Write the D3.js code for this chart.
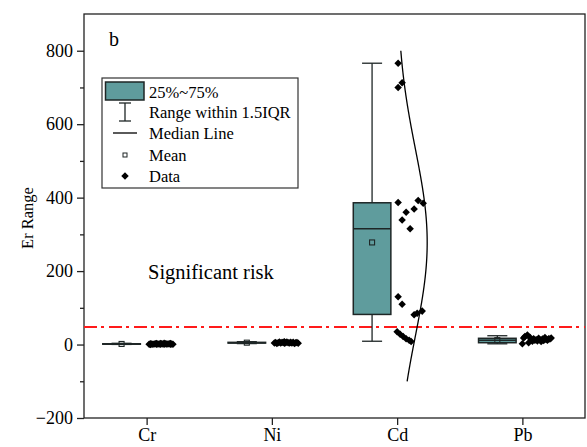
<!DOCTYPE html>
<html>
<head>
<meta charset="utf-8">
<script src="https://cdn.jsdelivr.net/npm/d3@7"></script>
<style>
  html, body { margin: 0; padding: 0; background: #fff; }
  svg { display: block; }
</style>
</head>
<body>
<svg id="chart" width="587" height="447"></svg>
<script>
// Metals on the category axis
const categories = ["Cr", "Ni", "Cd", "Pb"];

// Box statistics per metal (same order as categories)
const q1Values      = [0.9, 4.0, 82, 5];
const medianValues  = [1.5, 5.0, 315, 12];
const q3Values      = [2.1, 6.0, 386, 17];
const whiskerLow    = [0.3, 2.6, 9, 2];
const whiskerHigh   = [3.4, 7.8, 766, 24];
const meanValues    = [1.6, 5.1, 278, 12];

// Individual Er values, with a jitter (fraction of a category step) for each
const crData   = [0.3, 0.5, 0.6, 0.7, 0.8, 0.9, 1.0, 1.1, 1.2, 1.3, 1.4, 1.5, 1.5, 1.6, 1.7, 1.8, 1.9, 2.0, 2.1, 2.2, 2.4, 2.6, 2.8, 3.1, 3.4];
const crJitter = [0.03, 0.19, 0.08, 0.14, 0.05, 0.21, 0.11, 0.02, 0.17, 0.09, 0.13, 0.06, 0.2, 0.04, 0.16, 0.1, 0.18, 0.07, 0.12, 0.15, 0.03, 0.19, 0.08, 0.11, 0.14];
const niData   = [2.6, 3.0, 3.3, 3.6, 3.9, 4.1, 4.3, 4.5, 4.7, 4.9, 5.0, 5.1, 5.3, 5.5, 5.7, 5.9, 6.1, 6.4, 6.8, 7.2, 7.8];
const niJitter = [0.04, 0.18, 0.1, 0.21, 0.07, 0.14, 0.02, 0.16, 0.11, 0.05, 0.19, 0.13, 0.08, 0.2, 0.03, 0.15, 0.09, 0.17, 0.12, 0.06, 0.1];
const cdData   = [766, 713, 700, 392, 387, 385, 369, 360, 339, 315, 130, 110, 91, 85, 81, 35, 28, 22, 16, 12, 8];
const cdJitter = [0.008, 0.04, 0.008, 0.168, 0.008, 0.208, 0.136, 0.072, 0.04, 0.104, 0.008, 0.04, 0.2, 0.16, 0.136, 0.0, 0.024, 0.048, 0.072, 0.096, 0.112];
const pbData   = [26, 22, 18, 2, 5, 9, 14, 12, 16, 20, 10, 13, 17, 8, 11, 15, 19, 12, 14, 16, 18, 13, 15];
const pbJitter = [0.04, 0.02, 0.01, 0.0, 0.05, 0.08, 0.07, 0.1, 0.09, 0.06, 0.12, 0.14, 0.13, 0.15, 0.17, 0.16, 0.18, 0.2, 0.19, 0.21, 0.23, 0.11, 0.22];

// Normal distribution fitted to the Cd values
const cdFitMean = 278;
const cdFitSD = 255;

// Threshold line and axis ticks
const thresholdValue = 48;
const yTickValues = [-200, 0, 200, 400, 600, 800];
const yMinorTicks = [-100, 100, 300, 500, 700];

const pointSets = [
  { values: crData, jitter: crJitter },
  { values: niData, jitter: niJitter },
  { values: cdData, jitter: cdJitter },
  { values: pbData, jitter: pbJitter }
];

const serif = "'Liberation Serif', 'Times New Roman', Times, serif";

const svg = d3.select("#chart").attr("font-family", serif);
const plot = { left: 84, right: 585, top: 14, bottom: 418 };

const x = d3.scaleLinear().domain([0.5, categories.length + 0.5]).range([plot.left, plot.right]);
const y = d3.scaleLinear().domain([-200, 900]).range([plot.bottom, plot.top]);

const boxFill = "#5f9c9d";
const darkStroke = "#1e2626";
const boxOffset = -0.2;   // box centre relative to category
const boxHalf = 0.15;
const capHalf = 0.08;

// Frame
svg.append("rect")
  .attr("x", plot.left).attr("y", plot.top)
  .attr("width", plot.right - plot.left).attr("height", plot.bottom - plot.top)
  .attr("fill", "none").attr("stroke", "#222").attr("stroke-width", 1.3);

// Left axis
const yAxis = svg.append("g").attr("transform", `translate(${plot.left},0)`)
  .call(d3.axisLeft(y).tickValues(yTickValues).tickSize(7).tickPadding(4)
    .tickFormat(d => d < 0 ? "\u2212" + Math.abs(d) : d));
yAxis.attr("font-family", serif).attr("font-size", 18);
yAxis.select(".domain").remove();
yAxis.selectAll("line").attr("stroke", "#222").attr("stroke-width", 1.3);
yAxis.selectAll("text").attr("fill", "#000");
svg.append("g").attr("transform", `translate(${plot.left},0)`)
  .call(d3.axisLeft(y).tickValues(yMinorTicks).tickSize(4).tickFormat(""))
  .call(g => g.select(".domain").remove())
  .selectAll("line").attr("stroke", "#222").attr("stroke-width", 1.3);

// Bottom axis
const xAxis = svg.append("g").attr("transform", `translate(0,${plot.bottom})`)
  .call(d3.axisBottom(x).tickValues(d3.range(1, categories.length + 1))
    .tickFormat(i => categories[i - 1]).tickSize(7).tickPadding(3));
xAxis.attr("font-family", serif).attr("font-size", 18);
xAxis.select(".domain").remove();
xAxis.selectAll("line").attr("stroke", "#222").attr("stroke-width", 1.3);
xAxis.selectAll("text").attr("fill", "#000");

// Y axis title
svg.append("text")
  .attr("transform", `translate(33,218) rotate(-90)`)
  .attr("text-anchor", "middle")
  .attr("font-family", serif).attr("font-size", 16.5)
  .text("Er Range");

// Panel letter and annotation
svg.append("text").attr("x", 109).attr("y", 46)
  .attr("font-family", serif).attr("font-size", 20).text("b");
svg.append("text").attr("x", 148).attr("y", 279)
  .attr("font-family", serif).attr("font-size", 20.5).text("Significant risk");

// Threshold line
svg.append("line")
  .attr("x1", plot.left).attr("x2", plot.right)
  .attr("y1", y(thresholdValue)).attr("y2", y(thresholdValue))
  .attr("stroke", "#ff1a1a").attr("stroke-width", 2)
  .attr("stroke-dasharray", "13,4,3,5");

// Boxes
const boxes = svg.append("g");
categories.forEach((c, i) => {
  const cx = i + 1 + boxOffset;
  const g = boxes.append("g");
  // whiskers
  g.append("line").attr("x1", x(cx)).attr("x2", x(cx))
    .attr("y1", y(q3Values[i])).attr("y2", y(whiskerHigh[i]))
    .attr("stroke", darkStroke).attr("stroke-width", 1.3);
  g.append("line").attr("x1", x(cx)).attr("x2", x(cx))
    .attr("y1", y(q1Values[i])).attr("y2", y(whiskerLow[i]))
    .attr("stroke", darkStroke).attr("stroke-width", 1.3);
  [whiskerHigh[i], whiskerLow[i]].forEach(v => {
    g.append("line").attr("x1", x(cx - capHalf)).attr("x2", x(cx + capHalf))
      .attr("y1", y(v)).attr("y2", y(v))
      .attr("stroke", darkStroke).attr("stroke-width", 1.3);
  });
  // box
  g.append("rect")
    .attr("x", x(cx - boxHalf)).attr("width", x(cx + boxHalf) - x(cx - boxHalf))
    .attr("y", y(q3Values[i])).attr("height", Math.max(0, y(q1Values[i]) - y(q3Values[i])))
    .attr("fill", boxFill).attr("stroke", darkStroke).attr("stroke-width", 1.5);
  // median
  g.append("line").attr("x1", x(cx - boxHalf)).attr("x2", x(cx + boxHalf))
    .attr("y1", y(medianValues[i])).attr("y2", y(medianValues[i]))
    .attr("stroke", darkStroke).attr("stroke-width", 1.5);
  // mean
  g.append("rect")
    .attr("x", x(cx) - 2.5).attr("y", y(meanValues[i]) - 2.5)
    .attr("width", 5).attr("height", 5)
    .attr("fill", "none").attr("stroke", darkStroke).attr("stroke-width", 1.1);
});

// Data points
const diamond = d3.symbol().type(d3.symbolDiamond2).size(36);
const pts = svg.append("g");
pointSets.forEach((set, i) => {
  pts.selectAll(null)
    .data(set.values.map((v, k) => ({ v, j: set.jitter[k] })))
    .join("path")
    .attr("d", diamond)
    .attr("transform", d => `translate(${x(i + 1 + d.j)},${y(d.v)})`)
    .attr("fill", "#000");
});

// Fitted normal curve for Cd
const cdIndex = categories.indexOf("Cd") + 1;
const curveWidth = 0.24;
const curveVals = d3.range(-100, 801, 5);
const curveLine = d3.line()
  .x(v => x(cdIndex + curveWidth * Math.exp(-((v - cdFitMean) ** 2) / (2 * cdFitSD * cdFitSD))))
  .y(v => y(v));
svg.append("path").attr("d", curveLine(curveVals))
  .attr("fill", "none").attr("stroke", "#000").attr("stroke-width", 1.3);

// Legend
const lg = svg.append("g");
lg.append("rect").attr("x", 102).attr("y", 78).attr("width", 196).attr("height", 110)
  .attr("fill", "#fff").attr("stroke", "#333").attr("stroke-width", 1.2);
const lx = 125;
const rows = [92, 112, 133, 155, 176];
const labels = ["25%~75%", "Range within 1.5IQR", "Median Line", "Mean", "Data"];
lg.append("rect").attr("x", 105.5).attr("y", 82).attr("width", 38.5).attr("height", 18)
  .attr("fill", boxFill).attr("stroke", darkStroke).attr("stroke-width", 1.5);
lg.append("line").attr("x1", lx).attr("x2", lx).attr("y1", 103).attr("y2", 121)
  .attr("stroke", darkStroke).attr("stroke-width", 1.3);
[103, 121].forEach(yy => lg.append("line").attr("x1", lx - 6).attr("x2", lx + 6)
  .attr("y1", yy).attr("y2", yy).attr("stroke", darkStroke).attr("stroke-width", 1.3));
lg.append("line").attr("x1", 113).attr("x2", 137).attr("y1", rows[2]).attr("y2", rows[2])
  .attr("stroke", "#000").attr("stroke-width", 1.3);
lg.append("rect").attr("x", lx - 2).attr("y", rows[3] - 2).attr("width", 4).attr("height", 4)
  .attr("fill", "none").attr("stroke", darkStroke).attr("stroke-width", 1);
lg.append("path").attr("d", diamond).attr("transform", `translate(${lx},${rows[4]})`).attr("fill", "#000");
labels.forEach((t, k) => {
  lg.append("text").attr("x", 149).attr("y", rows[k]).attr("dy", "0.35em")
    .attr("font-family", serif).attr("font-size", 16.5).attr("fill", "#000").text(t);
});
</script>
</body>
</html>
